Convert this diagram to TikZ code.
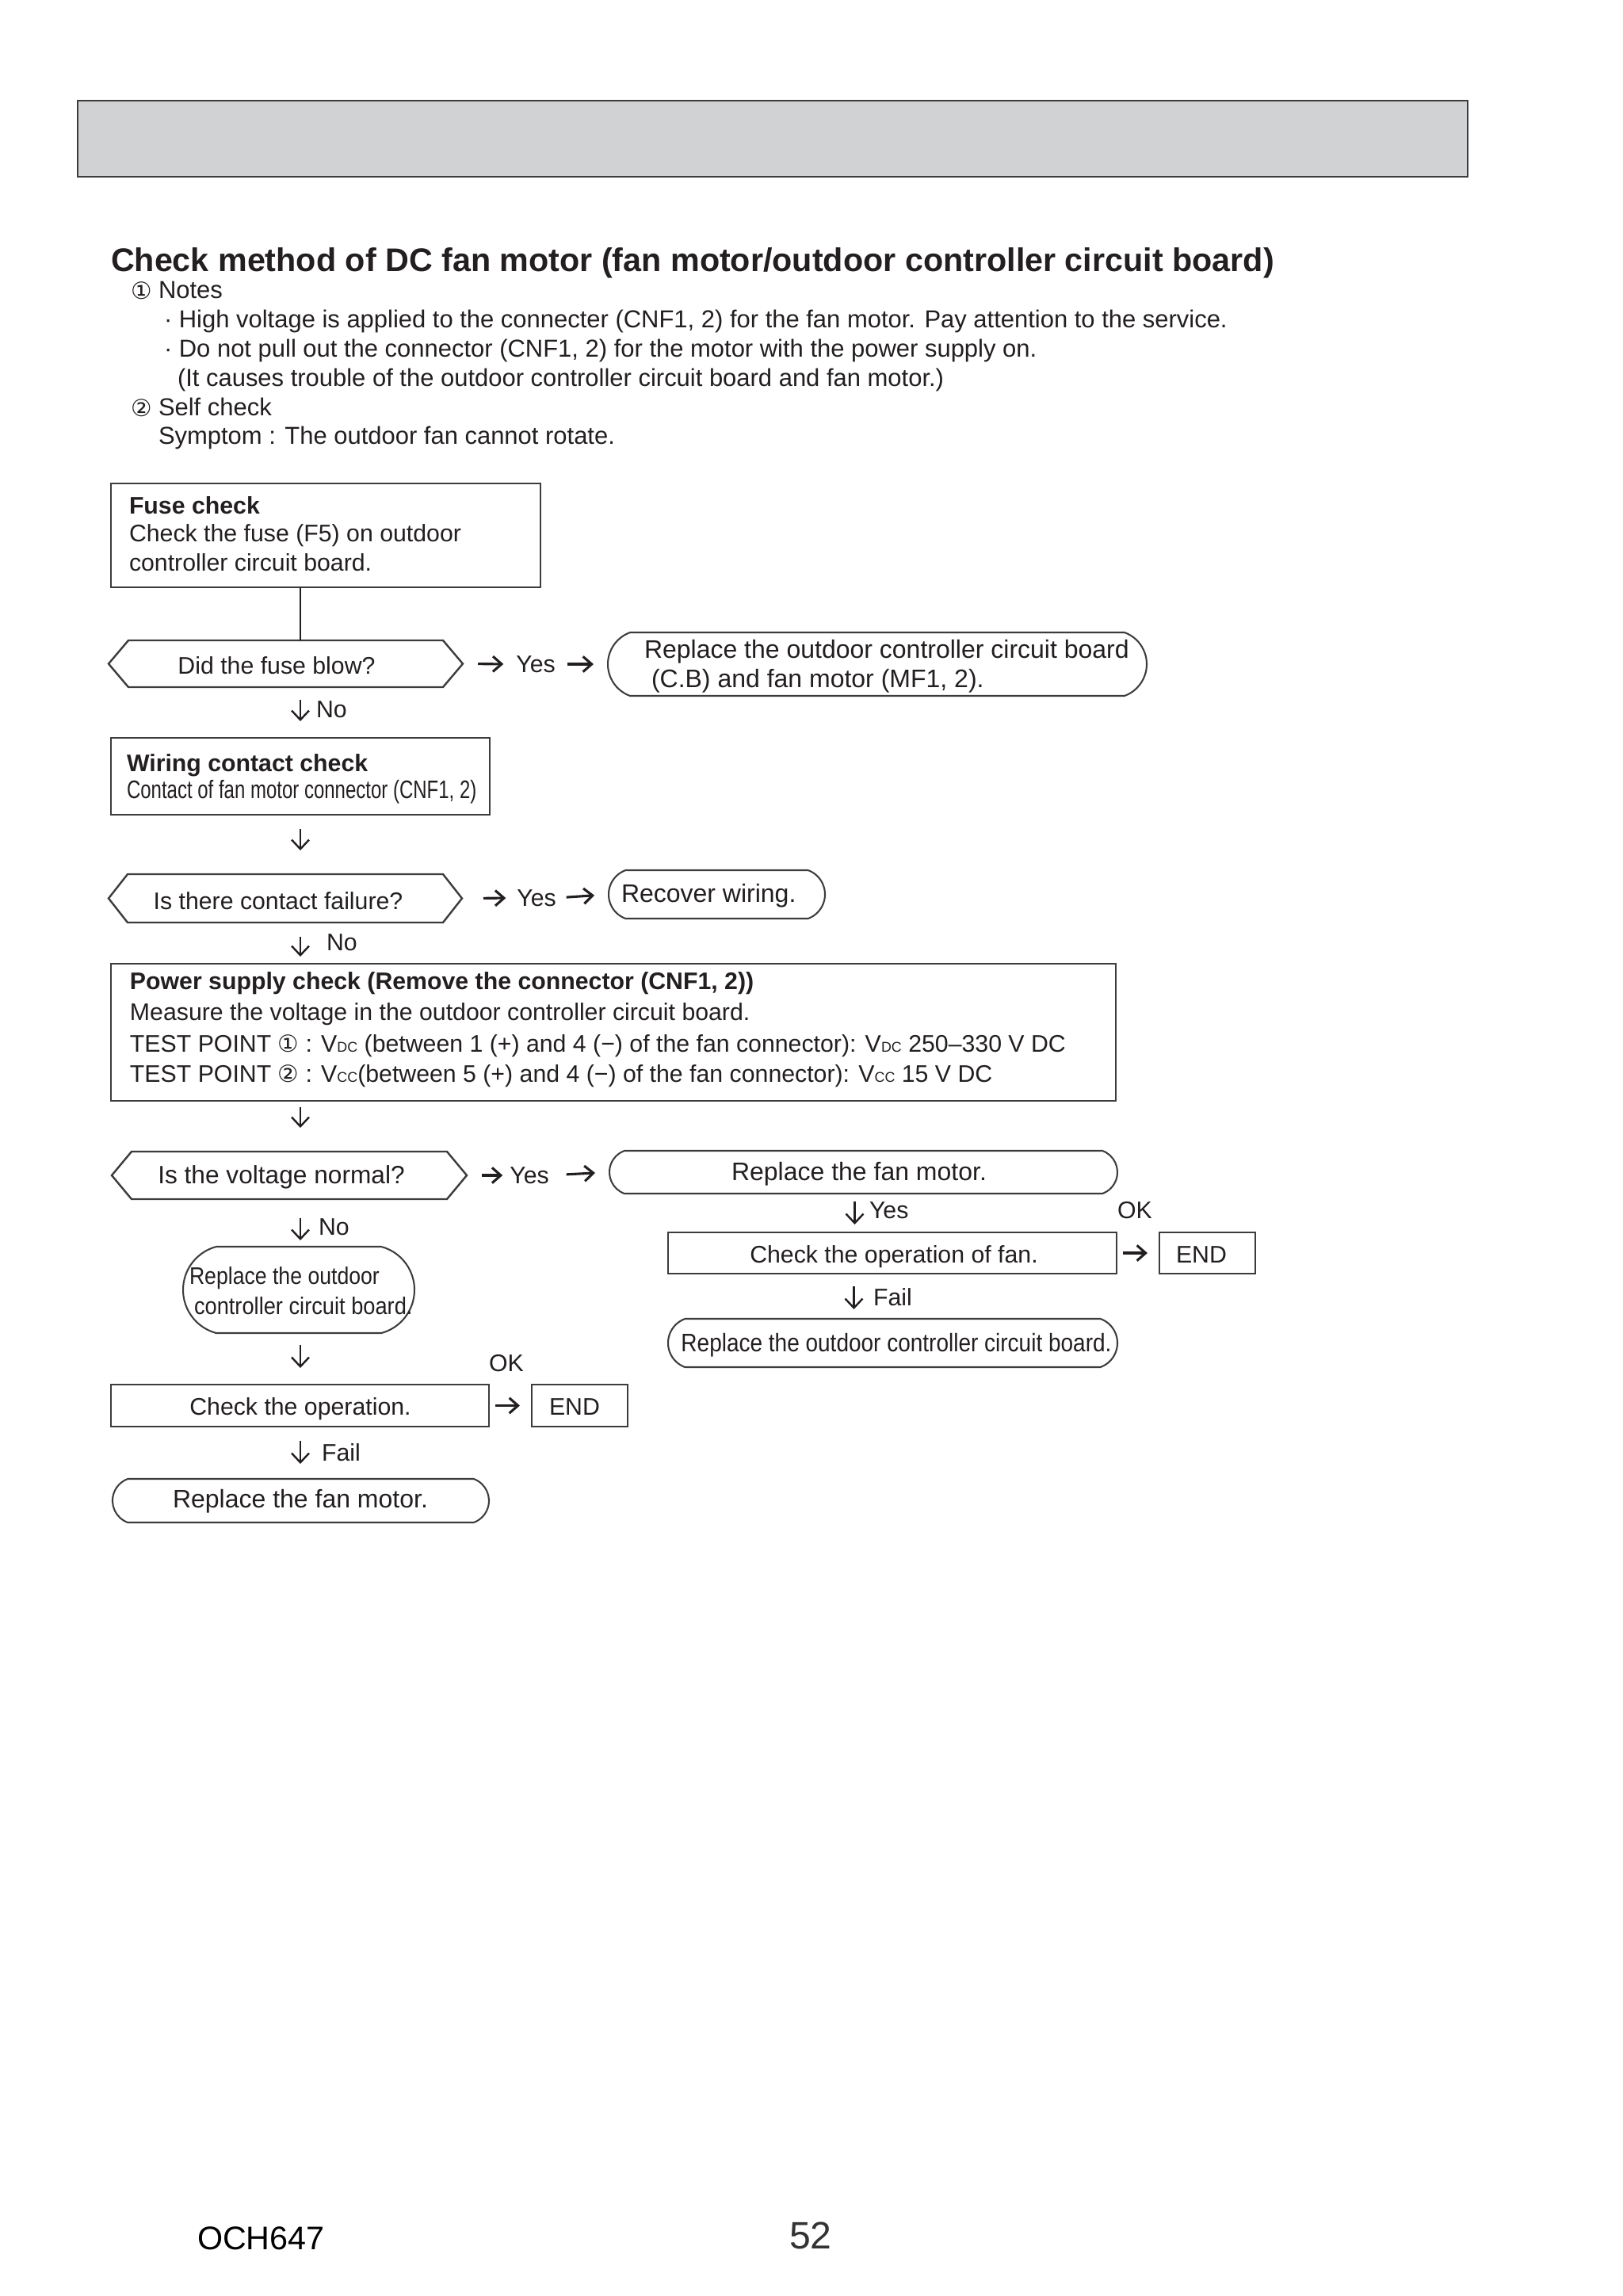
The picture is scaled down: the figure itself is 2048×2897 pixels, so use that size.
\documentclass[tikz,border=0pt]{standalone}
\usepackage{fontspec}
\setmainfont{Liberation Sans}
\newfontfamily\symf{DejaVu Sans}
\usetikzlibrary{shapes.misc,arrows.meta,calc}
\definecolor{ink}{HTML}{231F20}
\definecolor{edge}{HTML}{3C3C3C}
\definecolor{hdrfill}{HTML}{D1D2D4}
\def\U{0.2907pt}
\newcommand{\fsT}{\fontsize{12}{14}\selectfont\bfseries}
\newcommand{\fsN}{\fontsize{9}{10}\selectfont}
\newcommand{\fsB}{\fontsize{8.8}{10}\selectfont}
\newcommand{\fsL}{\fontsize{9.3}{10}\selectfont}
\newcommand{\cdg}[1]{{\symf\fontsize{8.6}{9}\selectfont #1}}
\newcommand{\subx}[1]{{\fontsize{5.2}{6}\selectfont #1}}
\newcommand{\hexout}[2]{%
  \draw[hline] (#1.west) -- ([xshift=#2*\U]#1.north west) -- ([xshift=-#2*\U]#1.north east) -- (#1.east) -- ([xshift=-#2*\U]#1.south east) -- ([xshift=#2*\U]#1.south west) -- cycle;}
\begin{document}
\begin{tikzpicture}[x=\U, y=-\U,
  tx/.style={inner sep=0, outer sep=0, anchor=base west, text=ink, font=\fsB},
  txc/.style={tx, anchor=base},
  lbl/.style={inner sep=0, outer sep=0, anchor=center, text=ink, font=\fsB},
  boxr/.style={draw=edge, line width=0.7pt, rectangle, inner sep=0, outer sep=0},
  rbox/.style={draw=edge, line width=0.6pt, rounded rectangle, rounded rectangle arc length=140, inner sep=0, outer sep=0},
  hexn/.style={rectangle, inner sep=0, outer sep=0},
  hline/.style={draw=edge, line width=0.7pt, line join=miter},
  harr/.style={draw=ink, line width=0.9pt, -{Straight Barb[length=3.2pt,width=5.6pt]}},
  darr/.style={draw=ink, line width=0.7pt, -{Straight Barb[length=3.4pt,width=6.4pt]}},
  plain/.style={draw=ink, line width=0.7pt}
]
\fill[white] (0,0) rectangle (2048,2897);
\useasboundingbox (0,0) rectangle (2048,2897);

% header band
\node[draw=edge, line width=0.8pt, fill=hdrfill, minimum width=1754*\U, minimum height=96*\U, inner sep=0] (hdr) at (975,175) {};

% title and notes
\node[tx, font=\fsT] (title) at (140,342) {Check method of DC fan motor (fan motor/outdoor controller circuit board)};
\node[tx] (c1) at (165,377) {\cdg{①}};
\node[tx, font=\fsN] (notes) at (200,376) {Notes};
\node[tx, font=\fsN] (n1) at (207,413) {· High voltage is applied to the connecter (CNF1, 2) for the fan motor. Pay attention to the service.};
\node[tx, font=\fsN] (n2) at (207,450) {· Do not pull out the connector (CNF1, 2) for the motor with the power supply on.};
\node[tx, font=\fsN] (n3) at (224,487) {(It causes trouble of the outdoor controller circuit board and fan motor.)};
\node[tx] (c2) at (165,525) {\cdg{②}};
\node[tx, font=\fsN] (self) at (200,524) {Self check};
\node[tx, font=\fsN] (symp) at (200,560) {Symptom : The outdoor fan cannot rotate.};

% shapes
\node[boxr, minimum width=542*\U, minimum height=131*\U] (fuse) at (411,675.5) {};
\node[hexn, minimum width=447*\U, minimum height=59*\U] (hex1) at (360.5,837.5) {};
\hexout{hex1}{25}
\node[rbox, minimum width=680*\U, minimum height=80*\U] (rb1) at (1107,838) {};
\node[boxr, minimum width=478*\U, minimum height=97*\U] (wire) at (379,979.5) {};
\node[hexn, minimum width=446*\U, minimum height=61*\U] (hex2) at (360,1133.5) {};
\hexout{hex2}{24}
\node[rbox, minimum width=273*\U, minimum height=61*\U] (rb2) at (904.5,1128.5) {};
\node[boxr, minimum width=1268*\U, minimum height=173*\U] (power) at (774,1302.5) {};
\node[hexn, minimum width=448*\U, minimum height=60*\U] (hex3) at (365,1483) {};
\hexout{hex3}{25}
\node[rbox, minimum width=641*\U, minimum height=54*\U] (rb3) at (1089.5,1479) {};
\node[boxr, minimum width=566*\U, minimum height=52*\U] (chkfan) at (1126,1581) {};
\node[boxr, minimum width=121*\U, minimum height=52*\U] (end1) at (1523.5,1581) {};
\node[rbox, minimum width=567*\U, minimum height=61*\U] (rb4) at (1126.5,1694.5) {};
\node[rbox, rounded rectangle arc length=150, minimum width=292*\U, minimum height=109*\U] (rb5) at (377,1627.5) {};
\node[boxr, minimum width=477*\U, minimum height=53*\U] (chkop) at (378.5,1773.5) {};
\node[boxr, minimum width=121*\U, minimum height=53*\U] (end2) at (731.5,1773.5) {};
\node[rbox, minimum width=475*\U, minimum height=55*\U] (rb6) at (379.5,1893.5) {};

% texts in shapes
\node[tx, font=\fsB\bfseries] (fuseh) at (163,648) {Fuse check};
\node[tx] (fuse1) at (163,683) {Check the fuse (F5) on outdoor};
\node[tx] (fuse2) at (163,720) {controller circuit board.};
\node[txc] (hex1t) at (349,850) {Did the fuse blow?};
\node[tx, font=\fsL] (rb1a) at (813,830) {Replace the outdoor controller circuit board};
\node[tx, font=\fsL] (rb1b) at (822,867) {(C.B) and fan motor (MF1, 2).};
\node[tx, font=\fsB\bfseries] (wireh) at (160,973) {Wiring contact check};
\node[tx] (wire1) at (160,1007) {\scalebox{0.75}[1]{\fontsize{9.3}{10}\selectfont Contact of fan motor connector (CNF1, 2)}};
\node[txc] (hex2t) at (351,1147) {Is there contact failure?};
\node[tx, font=\fsL] (rb2t) at (784,1138) {Recover wiring.};
\node[tx, font=\fsB\bfseries] (powh) at (164,1248) {Power supply check (Remove the connector (CNF1, 2))};
\node[tx] (pow1) at (164,1287) {Measure the voltage in the outdoor controller circuit board.};
\node[tx] (pow2) at (164,1327) {TEST POINT \cdg{①} : V\subx{DC} (between 1 (+) and 4 (−) of the fan connector): V\subx{DC} 250–330 V DC};
\node[tx] (pow3) at (164,1365) {TEST POINT \cdg{②} : V\subx{CC}(between 5 (+) and 4 (−) of the fan connector): V\subx{CC} 15 V DC};
\node[txc, font=\fontsize{9.2}{10}\selectfont] (hex3t) at (355,1493) {Is the voltage normal?};
\node[txc, font=\fsL] (rb3t) at (1084,1489) {Replace the fan motor.};
\node[txc] (chkfant) at (1128,1593) {Check the operation of fan.};
\node[txc] (end1t) at (1516,1593) {END};
\node[txc] (rb4t) at (1131,1705) {\scalebox{0.875}[1]{\fsL Replace the outdoor controller circuit board.}};
\node[tx] (rb5a) at (239,1620) {\scalebox{0.88}[1]{Replace the outdoor}};
\node[tx] (rb5b) at (245,1658) {\scalebox{0.9}[1]{controller circuit board.}};
\node[txc] (chkopt) at (379,1785) {Check the operation.};
\node[txc] (end2t) at (725,1785) {END};
\node[txc, font=\fsL] (rb6t) at (379,1902) {Replace the fan motor.};

% labels
\node[lbl] (yes1) at (676,838) {Yes};
\node[lbl] (yes2) at (677,1133) {Yes};
\node[lbl] (yes3) at (668,1483) {Yes};
\node[tx] (no1) at (399,905) {No};
\node[tx] (no2) at (412,1199) {No};
\node[tx] (no3) at (402,1558) {No};
\node[tx] (yes4) at (1097,1537) {Yes};
\node[tx] (ok1) at (1410,1537) {OK};
\node[tx] (fail1) at (1102,1647) {Fail};
\node[tx] (ok2) at (617,1730) {OK};
\node[tx] (fail2) at (406,1843) {Fail};

% connectors
\draw[plain] (fuse.south -| wire.center) -- (hex1.north -| wire.center);
\draw[harr, shorten <=19*\U, shorten >=16*\U] (hex1.east) -- (yes1.west);
\draw[harr, shorten <=15*\U, shorten >=18*\U] (yes1.east) -- (rb1.west);
\draw[darr, shorten <=16*\U, shorten >=21*\U] (hex1.south -| wire.center) -- (wire.north);
\draw[darr, shorten <=18*\U, shorten >=30*\U] (wire.south) -- (hex2.north -| wire.center);
\draw[harr, shorten <=27*\U, shorten >=14*\U] (hex2.east) -- (yes2.west);
\draw[harr, shorten <=13*\U, shorten >=18*\U] (yes2.east) -- (rb2.west);
\draw[darr, shorten <=18*\U, shorten >=9*\U] (hex2.south -| wire.center) -- (power.north -| wire.center);
\draw[darr, shorten <=8*\U, shorten >=30*\U] (power.south -| wire.center) -- (hex3.north -| wire.center);
\draw[harr, shorten <=19*\U, shorten >=9*\U] (hex3.east) -- (yes3.west);
\draw[harr, shorten <=22*\U, shorten >=18*\U] (yes3.east) -- (rb3.west);
\draw[darr, shorten <=10*\U, shorten >=10*\U] ([xshift=-11*\U]rb3.south) -- ([xshift=-11*\U]rb3.south |- chkfan.north);
\draw[harr, shorten <=8*\U, shorten >=15*\U] (chkfan.east) -- (end1.west);
\draw[darr, shorten <=16*\U, shorten >=12*\U] ([xshift=-12*\U]rb3.south |- chkfan.south) -- ([xshift=-12*\U]rb3.south |- rb4.north);
\draw[darr, shorten <=24*\U, shorten >=8*\U] (hex3.south -| wire.center) -- (rb5.north -| wire.center);
\draw[darr, shorten <=15*\U, shorten >=21*\U] (rb5.south -| wire.center) -- (chkop.north -| wire.center);
\draw[harr, shorten <=8*\U, shorten >=15*\U] (chkop.east) -- (end2.west);
\draw[darr, shorten <=18*\U, shorten >=19*\U] (chkop.south -| wire.center) -- (rb6.north -| wire.center);

% footer
\node[tx, font=\fontsize{12}{14}\selectfont, text=black] (doc) at (249,2838) {OCH647};
\node[tx, font=\fontsize{14}{16}\selectfont, text=black!80] (page) at (996,2837) {52};
\end{tikzpicture}
\end{document}
